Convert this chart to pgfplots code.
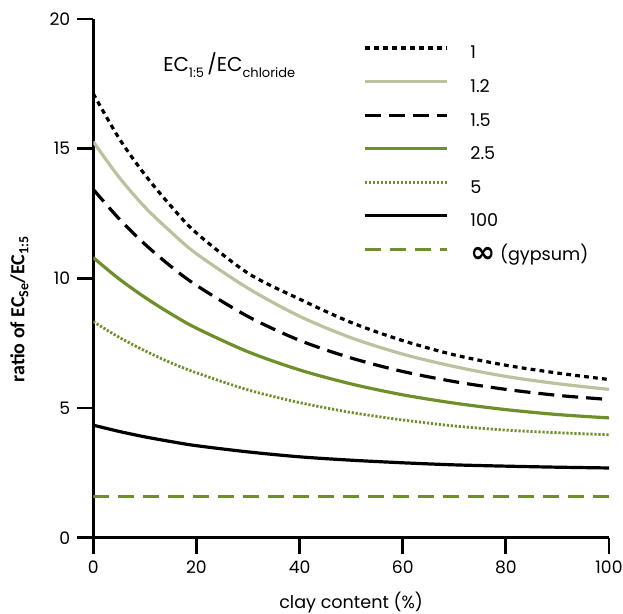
\documentclass[border=0pt]{standalone}
\usepackage{fontspec}
\setmainfont{Poppins}
\newfontfamily\carlito{Carlito}
\newfontfamily\djv{DejaVu Sans}
\usepackage{pgfplots}
\pgfplotsset{compat=1.18}
\usetikzlibrary{calc}
\definecolor{olive}{HTML}{6F8F2B}
\definecolor{sage}{HTML}{BDC29E}
\newcommand\sub[1]{\raisebox{-2.6pt}{\fontsize{6.5}{7}\selectfont #1}}
\newcommand\csub[1]{\raisebox{-2pt}{\fontsize{7}{7}\selectfont #1}}

\begin{document}
\begin{tikzpicture}
\begin{axis}[
  scale only axis, width=258pt, height=259.5pt,
  xmin=0, xmax=100, ymin=0, ymax=20,
  axis lines=left, axis line style={line width=1.4pt,-},
  xtick={0,20,...,100}, ytick={0,5,...,20},
  tick align=outside, major tick length=8pt,
  tick style={line width=1.4pt,black},
  tick label style={font=\fontsize{8.6}{10}\selectfont},
  /pgf/number format/assume math mode=true,
  xlabel={clay content (\%)},
  xlabel style={font=\fontsize{8.8}{10}\selectfont, at={(rel axis cs:0.5,0)}, anchor=center, yshift=-32.5pt},
  legend style={at={(rel axis cs:0.5227,0.949)}, anchor=north west, draw=none, fill=none,
    font=\fontsize{8.8}{10}\selectfont, row sep=8.3pt, column sep=11pt, inner sep=0pt,
    nodes={inner sep=0pt, text height=6.5pt, text depth=2pt}},
  legend cell align=left,
  legend image code/.code={\draw[#1] (0pt,3.2pt) -- (41pt,3.2pt);},
  every axis plot/.append style={line width=1.6pt},
]
\addplot[black, dash pattern=on 2.4pt off 2.1pt, smooth] coordinates {
 (0,17.12) (5,15.4) (10,14.0) (15,12.8) (20,11.75) (30,10.2) (40,9.2) (50,8.3)
 (60,7.6) (70,7.05) (80,6.65) (90,6.35) (100,6.1)};
\addlegendentry{1}
\addplot[sage, smooth] coordinates {
 (0,15.27) (5,13.9) (10,12.75) (15,11.8) (20,10.95) (30,9.62) (40,8.54) (50,7.71)
 (60,7.08) (70,6.6) (80,6.22) (90,5.94) (100,5.72)};
\addlegendentry{1.2}
\addplot[black, dash pattern=on 8pt off 4pt, smooth] coordinates {
 (0,13.43) (5,12.3) (10,11.32) (15,10.47) (20,9.73) (30,8.53) (40,7.61) (50,6.93)
 (60,6.41) (70,6.02) (80,5.72) (90,5.49) (100,5.33)};
\addlegendentry{1.5}
\addplot[olive, smooth] coordinates {
 (0,10.8) (5,9.98) (10,9.27) (15,8.64) (20,8.08) (30,7.17) (40,6.47) (50,5.93)
 (60,5.51) (70,5.19) (80,4.94) (90,4.75) (100,4.62)};
\addlegendentry{2.5}
\addplot[olive, line width=1.4pt, dash pattern=on 1.1pt off 0.9pt, smooth] coordinates {
 (0,8.33) (5,7.73) (10,7.21) (15,6.75) (20,6.36) (30,5.7) (40,5.21) (50,4.83)
 (60,4.54) (70,4.31) (80,4.15) (90,4.05) (100,3.97)};
\addlegendentry{5}
\addplot[black, smooth] coordinates {
 (0,4.34) (5,4.1) (10,3.89) (15,3.71) (20,3.55) (30,3.31) (40,3.12) (50,2.99)
 (60,2.89) (70,2.81) (80,2.76) (90,2.72) (100,2.69)};
\addlegendentry{100}
\addplot[olive, dash pattern=on 8pt off 4.5pt] coordinates {(0,1.6) (100,1.6)};
\addlegendentry{\raisebox{-1pt}{\djv\bfseries\fontsize{15}{10}\selectfont ∞} (gypsum)}
\coordinate (O) at (rel axis cs:0,0);
\coordinate (T) at (rel axis cs:1,1);
\node[anchor=base west, font=\fontsize{10}{11}\selectfont, inner sep=0pt] at (rel axis cs:0.135,0.898)
  {EC\sub{1:5}\,/EC\sub{chloride}};
\end{axis}
\node[rotate=90, font=\carlito\bfseries\fontsize{10}{11}\selectfont] at ($(O)!0.44!(O|-T)+(-37pt,0)$)
  {ratio of EC\csub{Se}/EC\csub{1:5}};
\pgfresetboundingbox
\path ($(O)+(-46.65pt,-38pt)$) rectangle ($(T)+(7pt,9.5pt)$);
\end{tikzpicture}
\end{document}
